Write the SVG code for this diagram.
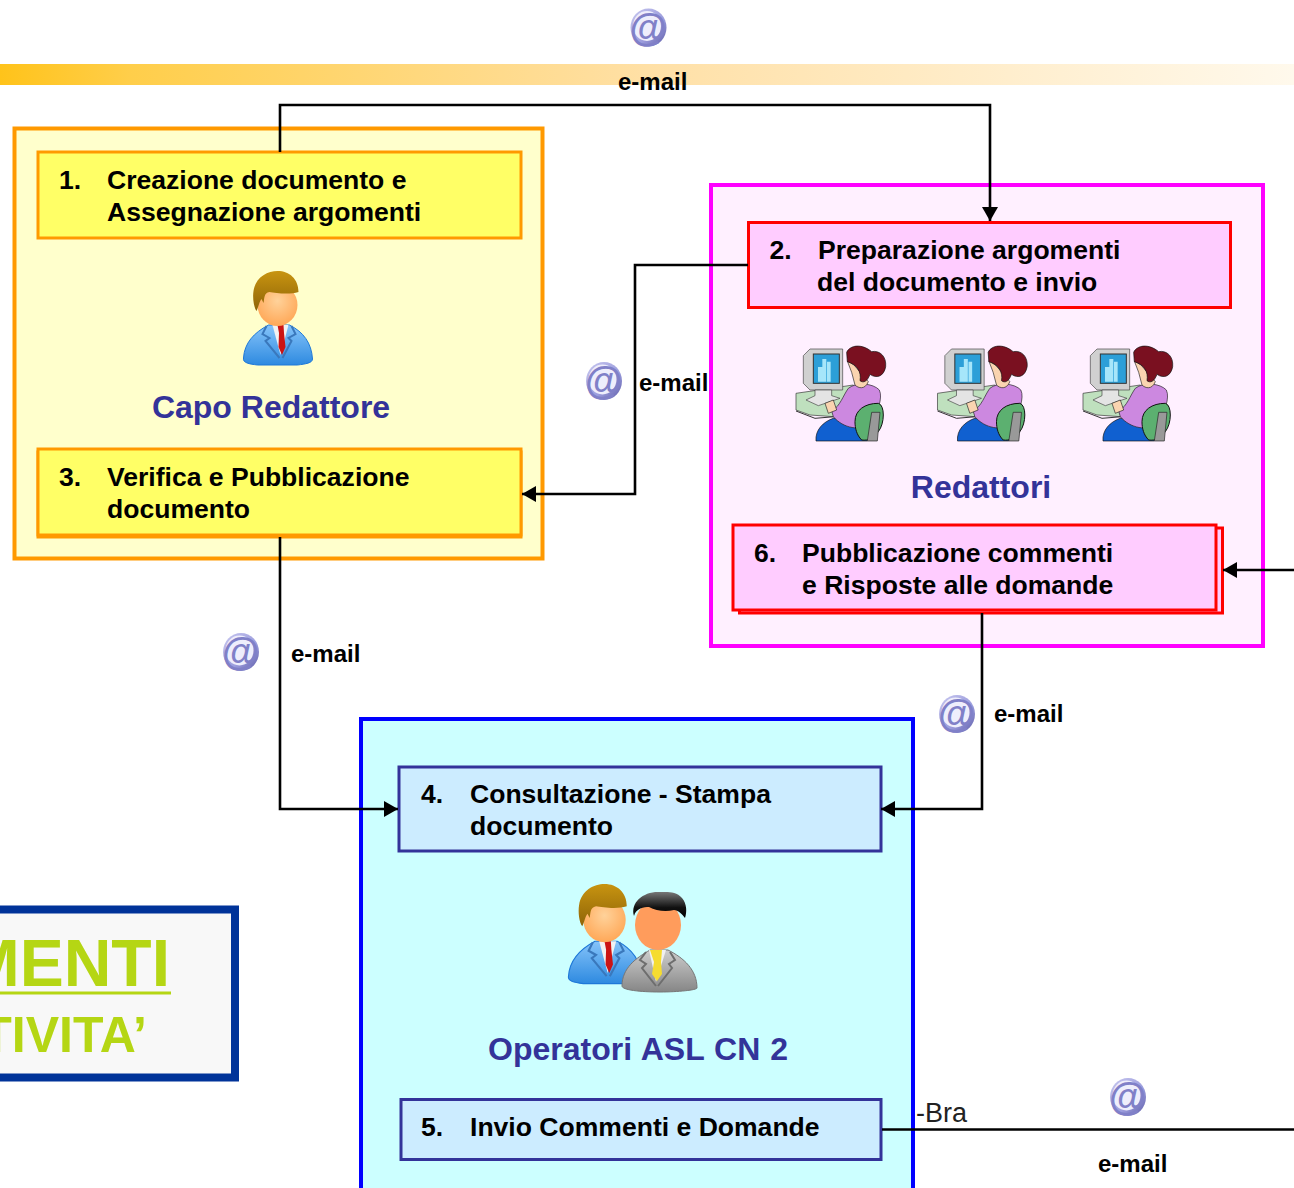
<svg xmlns="http://www.w3.org/2000/svg" width="1294" height="1188" viewBox="0 0 1294 1188">
<style>
text{font-family:"Liberation Sans",Arial,sans-serif}
.t{font-size:26.55px;font-weight:bold;fill:#000}
.m{font-size:24px;font-weight:bold;fill:#000}
.h{font-size:32px;font-weight:bold;fill:#333399;text-anchor:middle}
.c{fill:none;stroke:#000;stroke-width:2.6}
.y{fill:#FFFF66;stroke:#FF9900;stroke-width:3}
.p{fill:#FFCCFF;stroke:#FF0000;stroke-width:3}
.b{fill:#CCECFF;stroke:#333399;stroke-width:3}
</style>
<defs>
<marker id="a" markerWidth="15" markerHeight="17" refX="14" refY="8.500" orient="auto" markerUnits="userSpaceOnUse"><path d="M0 .5L14 8.500L0 16.500z" fill="#000"/></marker>
<linearGradient id="bar"><stop offset="0" stop-color="#FFC31A"/><stop offset=".1" stop-color="#FFCE4A"/><stop offset=".5" stop-color="#FFE0A6"/><stop offset="1" stop-color="#FFF9EC"/></linearGradient>
<linearGradient id="ring" x1="0" y1="0" x2="1" y2="1"><stop offset="0" stop-color="#C8C8F0"/><stop offset=".6" stop-color="#9C9CDC"/><stop offset="1" stop-color="#5C5CA8"/></linearGradient>
<linearGradient id="suit" x1="0" y1="0" x2="0" y2="1"><stop offset="0" stop-color="#86C4FA"/><stop offset="1" stop-color="#2E8AE0"/></linearGradient>
<linearGradient id="grey" x1="0" y1="0" x2="0" y2="1"><stop offset="0" stop-color="#CDCDCD"/><stop offset="1" stop-color="#868686"/></linearGradient>
<linearGradient id="hair" x1="0" y1="0" x2="0" y2="1"><stop offset="0" stop-color="#C89410"/><stop offset="1" stop-color="#8E6408"/></linearGradient>
<linearGradient id="blk" x1="0" y1="0" x2="0" y2="1"><stop offset="0" stop-color="#777"/><stop offset=".6" stop-color="#111"/><stop offset="1" stop-color="#000"/></linearGradient>
<radialGradient id="face" cx=".5" cy=".4" r=".6"><stop offset="0" stop-color="#FFD29A"/><stop offset="1" stop-color="#FFA858"/></radialGradient>
<g id="at">
<ellipse cx="0" cy="0" rx="18" ry="19" fill="url(#ring)"/>
<ellipse cx="-1.500" cy="-1.500" rx="14" ry="15" fill="#EEEEFC"/>
<text x="-1" y="13" font-size="38" font-weight="bold" font-style="italic" text-anchor="middle" fill="#8080C8">@</text>
</g>
<g id="man">
<path d="M-34 53C-33 38-24 28-9 20L12 20C26 27 34 38 35 54C35 58 28 59 20 60L-20 60C-28 59-35 58-34 53z" fill="url(#suit)" stroke="#1E78D8"/>
<path d="M-5 20L3 50L11 20z" fill="#F2F2F2"/>
<path d="M0 20H6L6.500 28L8 42L4.500 50L1 42L1.500 28z" fill="#CC1414"/>
<path d="M-11 21L-15 29L-8 33L-12 36L2 53M14 21L18 29L11 33L14 36L5 53" stroke="#3A78BC" stroke-width="2" fill="none"/>
<ellipse cx="0" cy="0" rx="20" ry="21" fill="url(#face)"/>
<path d="M-21 6C-24 2-25 -8-24 -14C-22 -28-10 -34 0 -34C12 -34 21 -26 21 -13C12 -10-2 -12-8 -13C-14 -12-13 -6-14 -2L-16 -6C-18 -4-19 2-21 6z" fill="url(#hair)"/>
</g>
<g id="woman">
<path d="M18 175L190 150L200 215L130 245L60 240L18 225z" fill="#BFE0BE" stroke="#333" stroke-width="2"/>
<path d="M18 228L75 250L135 245" fill="none" stroke="#333" stroke-width="3"/>
<path d="M40 62L60 42H158V165H60L40 145z" fill="#D0D0D0" stroke="#444" stroke-width="2"/>
<rect x="70" y="57" width="78" height="88" fill="#2C9FD8" stroke="#333" stroke-width="3"/>
<path d="M84 140V96H97V140zM97 140V72H109V140zM111 140V80H122V140z" fill="#A6E6FA"/>
<path d="M75 165H125V182L150 190L85 212L48 195L75 182z" fill="#E4E4E4" stroke="#444" stroke-width="2"/>
<path d="M78 318C75 285 100 260 130 250L220 262L232 318z" fill="#1060D0" stroke="#111" stroke-width="2"/>
<path d="M125 228C150 215 160 180 175 160C200 140 250 145 268 165C280 190 260 230 250 265C210 290 160 280 130 245z" fill="#CC88E0" stroke="#222" stroke-width="2"/>
<path d="M195 260C195 225 225 205 265 205C285 210 285 265 265 290C250 310 235 318 215 315C200 300 195 280 195 260z" fill="#5CB070" stroke="#111" stroke-width="3"/>
<path d="M232 318L245 232L270 232L262 318z" fill="#999" stroke="#222" stroke-width="2"/>
<path d="M172 78L192 90L235 140C225 165 205 160 195 150L185 112z" fill="#FAD4B0" stroke="#222" stroke-width="2"/>
<path d="M105 205L130 195L140 225L115 235z" fill="#FAD4B0" stroke="#222" stroke-width="2"/>
<path d="M170 52C180 30 215 25 245 50C270 45 290 65 287 95C282 124 260 132 240 118C232 140 220 145 210 137C215 110 200 88 172 80z" fill="#7A1020" stroke="#111" stroke-width="2"/>
</g>
</defs>

<rect id="band" x="0" y="64" width="1294" height="21" fill="url(#bar)"/>

<g id="capo">
<rect x="14.500" y="128.500" width="528" height="430" fill="#FFFFCC" stroke="#FF9900" stroke-width="4"/>
<use href="#man" x="277.500" y="305"/>
<text class="h" x="271" y="418">Capo Redattore</text>
</g>
<g id="redattori">
<rect x="711" y="185" width="552" height="461" fill="#FFF0FF" stroke="#FF00FF" stroke-width="4"/>
<use href="#woman" transform="translate(790 335) scale(.3333)"/>
<use href="#woman" transform="translate(931.500 335) scale(.3333)"/>
<use href="#woman" transform="translate(1077 335) scale(.3333)"/>
<text class="h" x="981" y="498">Redattori</text>
</g>
<g id="operatori">
<rect x="361" y="719" width="552" height="500" fill="#CCFFFF" stroke="#0000FF" stroke-width="4"/>
<use href="#man" transform="translate(604.500 920) scale(1.06)"/>
<g transform="translate(658 928)">
<path d="M-36 58C-36 40-22 30-8 22H10C26 30 39 42 39 60C39 62 20 64 2 64C-18 64-36 62-36 58z" fill="url(#grey)" stroke="#777"/>
<path d="M-9 22L-2 54L8 22z" fill="#F0F0F0"/>
<path d="M-8 22H4L3 34L4 46L-1 53L-6 46L-4 34z" fill="#F5DC30"/>
<path d="M-12 24L-18 32L-12 36L-16 40L-2 58M12 24L17 32L11 36L14 40L0 58" stroke="#6E6E6E" stroke-width="2" fill="none"/>
<ellipse cx="0" cy="-3" rx="23" ry="25" fill="#FF9C5C"/>
<path d="M-24 -12C-28 -26-14 -37 2 -36C10 -36 18 -37 24 -30C29 -24 29 -16 27 -10C24 -14 20 -18 16 -18C8 -16-2 -17-9 -21C-14 -21-22 -20-24 -12z" fill="url(#blk)"/>
</g>
<text class="h" word-spacing="1" x="638" y="1060">Operatori ASL CN 2</text>
</g>

<g id="n1"><rect class="y" x="38" y="152" width="483" height="86"/>
<text class="t" x="59" y="189">1.</text><text class="t" x="107" y="189">Creazione documento e</text><text class="t" x="107" y="221">Assegnazione argomenti</text></g>
<g id="n3"><rect class="y" x="38" y="452" width="483" height="85"/><rect class="y" x="38" y="449" width="483" height="86"/>
<text class="t" x="59" y="486">3.</text><text class="t" x="107" y="486">Verifica e Pubblicazione</text><text class="t" x="107" y="518">documento</text></g>
<g id="n2"><rect class="p" x="748.500" y="222.500" width="482" height="85"/>
<text class="t" x="769.500" y="259">2.</text><text class="t" x="818" y="259">Preparazione argomenti</text><text class="t" x="817" y="291">del documento e invio</text></g>
<g id="n6"><rect class="p" stroke-width="2" x="739.500" y="528" width="483" height="85"/><rect class="p" x="733" y="525" width="483" height="85"/>
<text class="t" x="754" y="562">6.</text><text class="t" x="802" y="562">Pubblicazione commenti</text><text class="t" x="802" y="594">e Risposte alle domande</text></g>
<g id="n4"><rect class="b" x="399" y="767" width="482" height="84"/>
<text class="t" x="421" y="803">4.</text><text class="t" x="470" y="803">Consultazione - Stampa</text><text class="t" x="470" y="835">documento</text></g>
<g id="n5"><rect class="b" stroke-width="2" x="401" y="1099.500" width="480" height="60"/>
<text class="t" x="421" y="1136">5.</text><text class="t" x="470" y="1136">Invio Commenti e Domande</text></g>

<g id="connectors">
<path class="c" d="M280 152V105H990V221" marker-end="url(#a)"/>
<path class="c" d="M748 265H635V494H522" marker-end="url(#a)"/>
<path class="c" d="M280 537V809H398" marker-end="url(#a)"/>
<path class="c" d="M982 613V809H881" marker-end="url(#a)"/>
<path class="c" d="M1294 570H1223" marker-end="url(#a)"/>
<path class="c" d="M882 1129.500H1294"/>
</g>

<g id="labels">
<use href="#at" x="648.500" y="27.500"/><text class="m" x="618" y="90">e-mail</text>
<use href="#at" x="604" y="381"/><text class="m" x="639" y="391">e-mail</text>
<use href="#at" x="241" y="652"/><text class="m" x="291" y="662">e-mail</text>
<use href="#at" x="957" y="714"/><text class="m" x="994" y="722">e-mail</text>
<use href="#at" x="1128" y="1097"/><text class="m" x="1098" y="1172">e-mail</text>
<text x="916" y="1122" font-size="27" fill="#222">-Bra</text>
</g>

<g id="title">
<rect x="-10" y="909.500" width="245" height="168" fill="#F8F8F8" stroke="#003399" stroke-width="8"/>
<text x="170" y="986" font-size="66" font-weight="bold" fill="#B5D614" text-anchor="end">MENTI</text>
<rect x="0" y="991.500" width="171" height="3" fill="#B5D614"/>
<text x="147" y="1052" font-size="50" font-weight="bold" fill="#B5D614" text-anchor="end">TIVITA’</text>
</g>
</svg>
